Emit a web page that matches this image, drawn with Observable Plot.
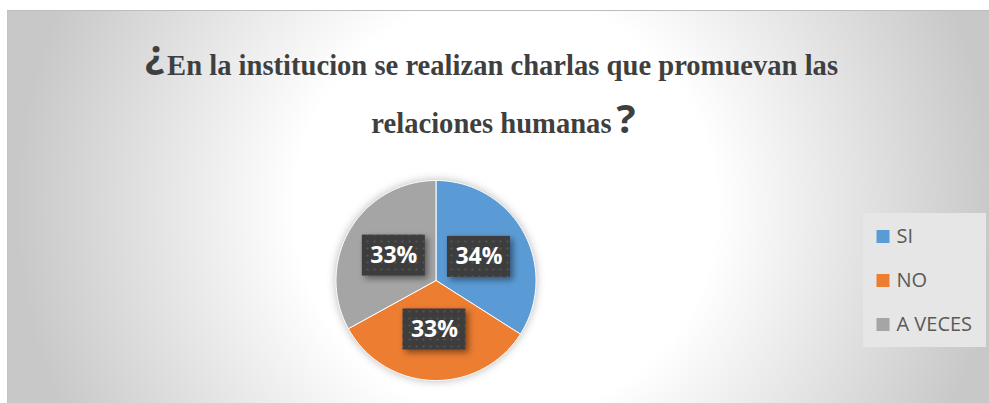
<!DOCTYPE html>
<html>
<head>
<meta charset="utf-8">
<script src="https://cdn.jsdelivr.net/npm/d3@7"></script>
<script src="https://cdn.jsdelivr.net/npm/@observablehq/plot@0.6"></script>
<style>
  html, body { margin: 0; padding: 0; background: #ffffff; }
  body { width: 989px; height: 403px; position: relative; overflow: hidden; }
  #chart {
    position: absolute; left: 7px; top: 10px; width: 990px; height: 400px;
    box-sizing: border-box; border-top: 1px solid #bdbdbd; border-left: 1px solid #c4c4c4;
    background: radial-gradient(circle 490px at 498px 196px, #ffffff 0px, #ffffff 210px, #c8c8c8 490px);
  }
  #pie { position: absolute; left: 0; top: 0; }
  #title { position: absolute; left: 0; top: 0; }
  #title .serif { font-family: "Liberation Serif", "Times New Roman", serif; font-weight: bold; font-size: 28.6px; fill: #3f3f3f; }
  #title .q { font-family: "Open Sans", sans-serif; font-weight: bold; font-size: 40px; }
  #legend { position: absolute; left: 863px; top: 213px; background: #e6e6e6; }
</style>
</head>
<body>
<div id="chart"></div>
<svg id="title" width="989" height="150" xmlns="http://www.w3.org/2000/svg">
  <text class="serif" x="491.5" y="75" text-anchor="middle"><tspan class="q" dy="-7">¿</tspan><tspan dy="7" dx="3">En la institucion se realizan charlas que promuevan las</tspan></text>
  <text class="serif" x="503.5" y="133" text-anchor="middle"><tspan>relaciones humanas</tspan><tspan class="q" dx="5">?</tspan></text>
</svg>
<div id="pie"></div>
<div id="legend"></div>
<script>
// ---- data ----
const categories = ["SI", "NO", "A VECES"];
const percentValues = [34, 33, 33];
const labels = ["34%", "33%", "33%"];
const colors = ["#5B9BD5", "#ED7D31", "#A5A5A5"];

// ---- derived geometry (unit circle data space) ----
const arcs = d3.pie().sort(null).value(d => d)(percentValues);
const slicePoints = [];
arcs.forEach((a, i) => {
  slicePoints.push({cat: categories[i], x: 0, y: 0});
  const steps = Math.max(2, Math.ceil((a.endAngle - a.startAngle) / (Math.PI / 180)));
  for (let k = 0; k <= steps; k++) {
    const t = a.startAngle + (a.endAngle - a.startAngle) * k / steps;
    slicePoints.push({cat: categories[i], x: Math.sin(t), y: Math.cos(t)});
  }
  slicePoints.push({cat: categories[i], x: 0, y: 0});
});
const labelPos = arcs.map((a, i) => {
  const m = (a.startAngle + a.endAngle) / 2;
  return {cat: categories[i], label: labels[i], x: 0.49 * Math.sin(m), y: 0.49 * Math.cos(m)};
});
const hw = 0.315, hh = 0.205;

const pie = Plot.plot({
  width: 989, height: 403,
  marginLeft: 335.5, marginRight: 453.5, marginTop: 180, marginBottom: 23,
  x: {domain: [-1, 1], axis: null},
  y: {domain: [-1, 1], axis: null},
  color: {domain: categories, range: colors},
  style: {background: "transparent", overflow: "visible"},
  marks: [
    Plot.line(slicePoints, {x: "x", y: "y", z: "cat", fill: "cat", stroke: "#ffffff", strokeWidth: 1, curve: "linear",
      imageFilter: "drop-shadow(0px 0px 4px rgba(0,0,0,0.28))"}),
    Plot.rect(labelPos, {x1: d => d.x - hw, x2: d => d.x + hw, y1: d => d.y - hh, y2: d => d.y + hh,
      fill: "url(#dots)", imageFilter: "drop-shadow(3px 3px 3px rgba(0,0,0,0.45))"}),
    Plot.text(labelPos, {x: "x", y: "y", text: "label", fill: "#ffffff", fontSize: 23, fontWeight: 700,
      fontFamily: "'Open Sans', sans-serif", lineAnchor: "middle"})
  ]
});
d3.select(pie).insert("defs", ":first-child").html(
  '<pattern id="dots" width="7" height="7" patternUnits="userSpaceOnUse">' +
  '<rect width="7" height="7" fill="#3d3d3d"/><circle cx="3.5" cy="3.5" r="1.1" fill="#555555"/></pattern>');
document.getElementById("pie").appendChild(pie);

// ---- legend ----
const legendData = categories.map((c, i) => ({cat: c}));
const legend = Plot.plot({
  width: 123, height: 134,
  marginLeft: 0, marginRight: 0, marginTop: 22.5, marginBottom: 23,
  y: {type: "point", domain: categories, axis: null, padding: 0},
  color: {domain: categories, range: colors},
  style: {background: "transparent", overflow: "visible"},
  marks: [
    Plot.dot(legendData, {y: "cat", frameAnchor: "left", dx: 19.5, symbol: "square", r: 7.33, fill: "cat", stroke: null}),
    Plot.text(legendData, {y: "cat", text: "cat", frameAnchor: "left", dx: 33, textAnchor: "start",
      fontSize: 20, fill: "#595959", fontFamily: "'Open Sans', sans-serif", lineAnchor: "middle"})
  ]
});
document.getElementById("legend").appendChild(legend);
</script>
</body>
</html>
